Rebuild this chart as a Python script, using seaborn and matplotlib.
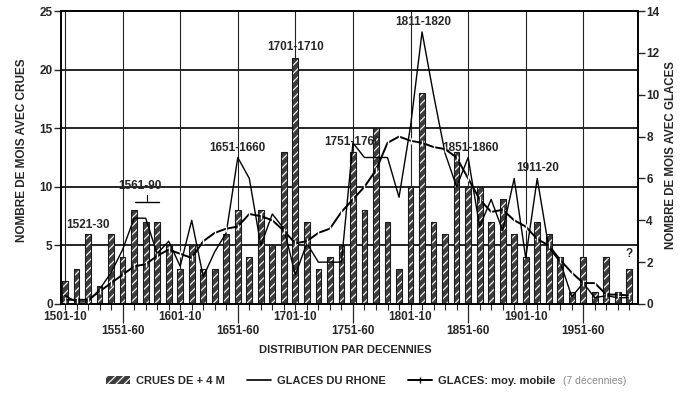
import numpy as np
import pandas as pd
import matplotlib
matplotlib.use("Agg")
import matplotlib.pyplot as plt
import seaborn as sns
from matplotlib.patches import Patch
from matplotlib.lines import Line2D

# ---------------- data ----------------
decades = [1501, 1511, 1521, 1531, 1541, 1551, 1561, 1571, 1581, 1591,
           1601, 1611, 1621, 1631, 1641, 1651, 1661, 1671, 1681, 1691,
           1701, 1711, 1721, 1731, 1741, 1751, 1761, 1771, 1781, 1791,
           1801, 1811, 1821, 1831, 1841, 1851, 1861, 1871, 1881, 1891,
           1901, 1911, 1921, 1931, 1941, 1951, 1961, 1971, 1981, 1991]

crues = [2, 3, 6, 1.5, 6, 4, 8, 7, 7, 5,
         3, 5, 3, 3, 6, 8, 4, 8, 5, 13,
         21, 7, 3, 4, 5, 13, 8, 15, 7, 3,
         10, 18, 7, 6, 13, 10, 10, 7, 9, 6,
         4, 7, 6, 4, 1, 4, 1, 4, 1, 3]

glaces = [0.4, 0.1, 0.1, 0.7, 1.5, 2.6, 4.1, 4.1, 2.4, 3.0,
          1.8, 4.0, 1.3, 2.5, 3.4, 7.0, 6.0, 2.8, 4.3, 3.6,
          1.4, 2.9, 2.0, 2.0, 2.0, 7.7, 7.0, 7.0, 7.0, 5.1,
          8.5, 13.0, 10.0, 7.2, 5.6, 7.0, 3.7, 5.0, 3.5, 6.0,
          2.2, 6.0, 2.7, 2.0, 0.35, 1.0, 0.3, 0.4, 0.3, 0.3]

glaces_mm = [0.2, 0.2, 0.2, 0.6, 1.0, 1.4, 1.8, 1.9, 2.3, 2.6,
             2.4, 2.2, 3.0, 3.4, 3.6, 3.7, 4.3, 4.2, 4.0, 3.5,
             2.9, 3.0, 3.4, 3.6, 4.4, 5.0, 5.6, 6.4, 7.7, 8.0,
             7.8, 7.7, 7.5, 7.4, 7.0, 6.0, 5.0, 4.4, 4.5, 4.0,
             3.7, 3.1, 2.8, 2.1, 1.5, 1.0, 1.0, 0.45, 0.45, 0.4]

upper_labels = ["1501-10", "1601-10", "1701-10", "1801-10", "1901-10"]
lower_labels = ["1551-60", "1651-60", "1751-60", "1851-60", "1951-60"]

annotations = [("1521-30", 1521, 6.7), ("1561-90", 1566, 10.1),
               ("1651-1660", 1651, 13.3), ("1701-1710", 1701, 21.9),
               ("1751-1760", 1751, 13.8), ("1811-1820", 1812, 24.1),
               ("1851-1860", 1853, 13.3), ("1911-20", 1911, 11.6),
               ("?", 1991, 4.3)]

# ---------------- style ----------------
sns.set_style("white")
plt.rcParams["font.family"] = ["Liberation Sans Narrow", "Liberation Sans", "DejaVu Sans"]
plt.rcParams["font.weight"] = "bold"
plt.rcParams["hatch.linewidth"] = 0.9

df = pd.DataFrame({"decade": decades, "crues": crues,
                   "glaces": glaces, "glaces_mm": glaces_mm})
df["pos"] = (df["decade"] - decades[0]) / 10.0


def pos_of(d):
    return (d - decades[0]) / 10.0


W, H = 684, 393
fig = plt.figure(figsize=(W / 100, H / 100), dpi=100)
ax = fig.add_axes([61 / W, 1 - 304 / H, (638 - 61) / W, (304 - 11) / H])

# gridlines
for v in [5, 10, 15, 20]:
    ax.axhline(v, color="black", lw=1.2, zorder=0)
for d in decades[::5]:
    ax.axvline(pos_of(d), color="#222", lw=0.8, zorder=0)

# bars: dark fill with light hatch, then outline
sns.barplot(data=df, x="pos", y="crues", native_scale=True, width=0.5,
            color="#3c3c3c", saturation=1, edgecolor="#f2f2f2",
            hatch="////", linewidth=0, ax=ax, zorder=2)
sns.barplot(data=df, x="pos", y="crues", native_scale=True, width=0.5,
            fill=False, edgecolor="#1a1a1a", linewidth=0.8, ax=ax, zorder=3)

ax.set_xlim(-0.35, 49.75)
ax.set_ylim(0, 25)
ax.set_yticks([0, 5, 10, 15, 20, 25])
ax.tick_params(axis="y", direction="out", length=5, width=1, pad=1,
               labelsize=8.5, left=True)

# x ticks: minor every decade, labelled upper row; long major ticks lower row
ax.set_xticks([pos_of(d) for d in decades], minor=True)
minor_labels = ["" for _ in decades]
for lab in upper_labels:
    minor_labels[decades.index(int(lab[:4]))] = lab
ax.set_xticklabels(minor_labels, minor=True)
ax.set_xticks([pos_of(int(l[:4])) for l in lower_labels])
ax.set_xticklabels(lower_labels)
ax.tick_params(axis="x", which="minor", direction="out", length=4, width=0.8,
               pad=1, labelsize=8.5, bottom=True)
ax.tick_params(axis="x", which="major", direction="out", length=14, width=0.9,
               pad=1, labelsize=8.5, bottom=True)
ax.set_xlabel("")
ax.set_ylabel("")
for s in ax.spines.values():
    s.set_color("black")
    s.set_linewidth(1.2)

# twin axis with the ice lines
ax2 = ax.twinx()
sns.lineplot(data=df, x="pos", y="glaces", color="black", lw=1.0, ax=ax2,
             zorder=4)
sns.lineplot(data=df, x="pos", y="glaces_mm", color="black", lw=1.4,
             marker="|", markersize=4, markeredgewidth=1.0, ax=ax2, zorder=5)
ax2.set_ylim(0, 14)
ax2.set_yticks([0, 2, 4, 6, 8, 10, 12, 14])
ax2.tick_params(axis="y", direction="out", length=5, width=1, pad=1,
                labelsize=8.5, right=True)
ax2.set_xlim(-0.35, 49.75)
ax2.set_xlabel("")
ax2.set_ylabel("")
for s in ax2.spines.values():
    s.set_color("black")
    s.set_linewidth(1.2)

# annotations
for txt, d, y in annotations:
    ax.text(pos_of(d), y, txt, ha="center", va="center", fontsize=8.5,
            fontweight="bold", zorder=6)
ax.plot([6.1, 8.2], [8.7, 8.7], color="black", lw=1.0, zorder=6)
ax.plot([7.15, 7.15], [8.75, 9.3], color="black", lw=0.8, zorder=6)

# axis titles
fig.text(22 / W, 1 - 150 / H, "NOMBRE DE MOIS AVEC CRUES", rotation=90,
         ha="center", va="center", fontsize=8.5, fontweight="bold")
fig.text(671 / W, 1 - 155 / H, "NOMBRE DE MOIS AVEC GLACES", rotation=90,
         ha="center", va="center", fontsize=8.3, fontweight="bold")
fig.text(345 / W, 1 - 350 / H, "DISTRIBUTION PAR DECENNIES",
         ha="center", va="center", fontsize=8, fontweight="bold")

# legend
handles = [Patch(facecolor="#3c3c3c", edgecolor="#f2f2f2", hatch="////",
                 linewidth=0),
           Line2D([], [], color="black", lw=1.2),
           Line2D([], [], color="black", lw=1.4, marker="|", markersize=5)]
labels = ["CRUES DE + 4 M", "GLACES DU RHONE", "GLACES: moy. mobile"]
leg = fig.legend(handles, labels, loc="center left",
                 bbox_to_anchor=(100 / W, 1 - 381 / H), ncol=3,
                 frameon=False, fontsize=8, handlelength=2.2,
                 handletextpad=0.5, columnspacing=2.0, borderpad=0)
fig.canvas.draw()
bb = leg.get_window_extent()
fig.text((bb.x1 + 8) / W, 1 - 381 / H, "(7 décennies)", ha="left",
         va="center", fontsize=7.5, color="#8a8a8a", fontweight="normal")

fig.savefig("out.png", dpi=100, facecolor="white")
